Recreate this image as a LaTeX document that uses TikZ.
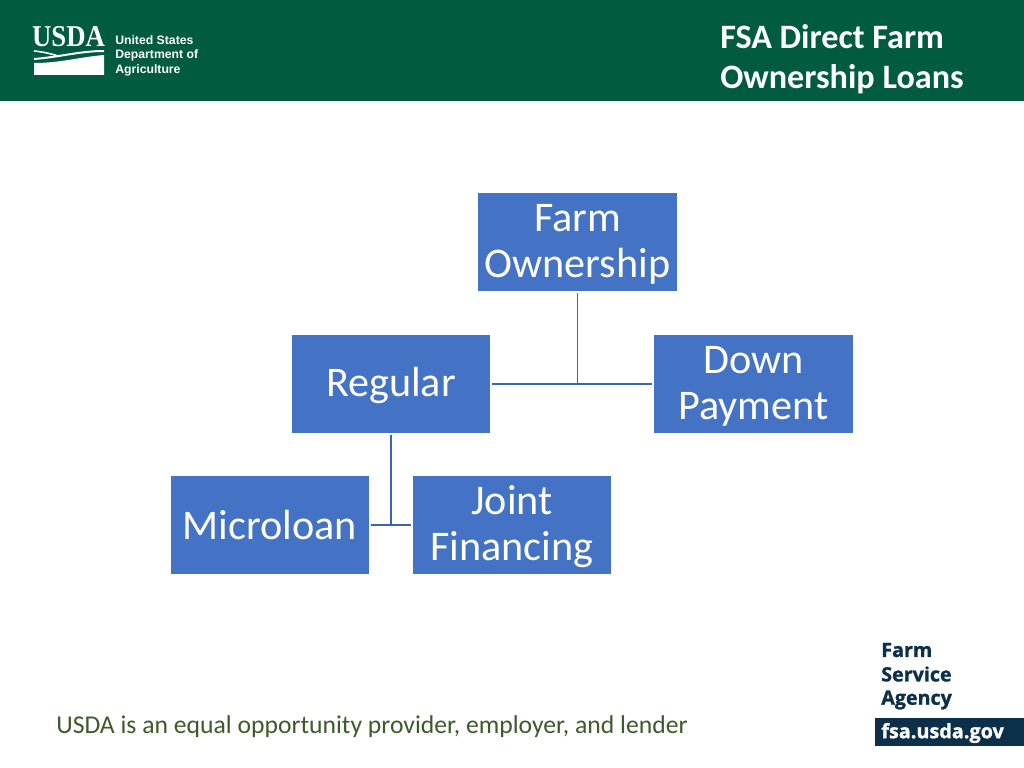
\documentclass[tikz,border=0pt]{standalone}
\usepackage{fontspec}
\setmainfont{Carlito}
\newfontfamily\logofont{Liberation Serif}
\newfontfamily\deptfont{Liberation Sans}
\newfontfamily\fsafont[BoldFeatures={FakeBold=1.2}]{Open Sans}
\definecolor{usdagreen}{HTML}{005B41}
\definecolor{boxblue}{HTML}{4472C4}
\definecolor{linkblue}{HTML}{3A65B0}
\definecolor{fsanavy}{HTML}{0C2F4A}
\definecolor{noteolive}{HTML}{3F5A2A}
\def\dropline{\rule{0pt}{23pt}}
\tikzset{
	loanbox/.style={fill=boxblue, text=white, minimum width=4.95cm, minimum height=2.45cm, inner sep=0pt, align=center, font=\fontsize{30}{33}\selectfont},
	loanlink/.style={draw=linkblue, line width=0.45mm},
	headtext/.style={text=white, anchor=west, inner sep=0pt, font=\fontsize{24.3}{28}\selectfont\bfseries},
	depttext/.style={text=white, anchor=west, inner sep=0pt, font=\fontsize{8.7}{8.7}\selectfont\deptfont\bfseries},
	fsatext/.style={text=fsanavy, anchor=west, inner sep=0pt, font=\fontsize{14}{14}\selectfont\fsafont\bfseries}
}
\begin{document}
\begin{tikzpicture}[x=0.025cm, y=-0.025cm]
		\useasboundingbox (0, 0) rectangle (1024, 768);
		\fill[white] (0, 0) rectangle (1024, 768);
		
		%%%%% HEADER %%%%%
		\fill[usdagreen] (0, 0) rectangle (1024, 101);
		\node[text=white, font=\fontsize{21.5}{21.5}\selectfont\logofont\bfseries, inner sep=0pt, xscale=0.885, transform shape] (usda) at (68.5, 37) {USDA};
		\fill[white] (34, 63) .. controls (60, 63) and (80, 57) .. (104, 55) -- (104, 75) -- (34, 75) -- cycle;
		\draw[white, line width=0.4mm] (34, 51) .. controls (44, 52) and (52, 54) .. (58, 56);
		\draw[white, line width=0.5mm] (34, 59) .. controls (60, 57) and (80, 51) .. (104, 51);
		\node[depttext] (dept1) at (115, 40) {United States};
		\node[depttext] (dept2) at (115, 55) {Department of};
		\node[depttext] (dept3) at (115, 70.5) {Agriculture};
		\node[headtext] (title1) at (720, 36.5) {FSA Direct Farm};
		\node[headtext] (title2) at (720, 79) {Ownership Loans};
		
		%%%%% BOXES %%%%%
		\node[loanbox] (farm) at (577.5, 242) {\dropline Farm\\Ownership};
		\node[loanbox] (regular) at (391, 384) {\dropline Regular};
		\node[loanbox] (down) at (753.5, 384) {\dropline Down\\Payment};
		\node[loanbox] (micro) at (270, 525) {Microloan};
		\node[loanbox] (joint) at (512, 525) {\dropline Joint\\Financing};
		
		%%%%% LINKS %%%%%
		\draw[loanlink] ([xshift=0.05cm]regular.east) -- ([xshift=-0.05cm]down.west);
		\draw[loanlink] ([yshift=-0.04cm]farm.south) -- (farm.south |- regular.east);
		\draw[loanlink] ([xshift=0.05cm]micro.east) -- ([xshift=-0.05cm]joint.west);
		\draw[loanlink] ([yshift=-0.04cm]regular.south) -- (regular.south |- micro.east);
		
		%%%%% FOOTER %%%%%
		\node[anchor=west, inner sep=0pt, text=noteolive, font=\fontsize{18.25}{18.25}\selectfont] (note) at (56, 727) {USDA is an equal opportunity provider, employer, and lender};
		\node[fsatext] (fsa1) at (881, 650) {Farm};
		\node[fsatext] (fsa2) at (881, 674) {Service};
		\node[fsatext] (fsa3) at (881, 700) {Agency};
		\fill[fsanavy] (875, 718) rectangle (1024, 746);
		\node[anchor=west, inner sep=0pt, text=white, font=\fontsize{14.1}{14.1}\selectfont\fsafont\bfseries] (fsaweb) at (881, 733) {fsa.usda.gov};
	\end{tikzpicture}
\end{document}
